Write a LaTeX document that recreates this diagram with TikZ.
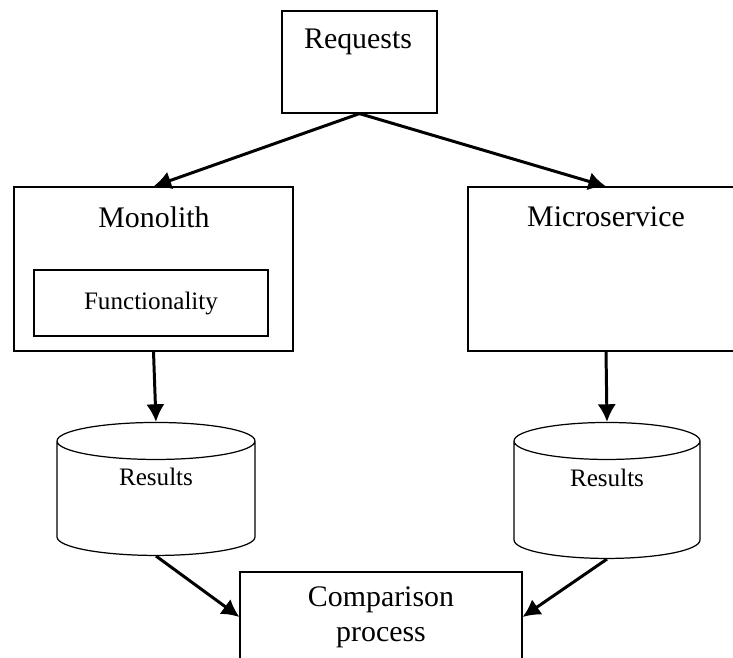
\documentclass[tikz,border=0pt]{standalone}
\usepackage{fontspec}
\setmainfont{Liberation Serif}
\usetikzlibrary{shapes.geometric,arrows.meta}

\tikzset{
  box/.style={draw, line width=0.7pt, inner sep=0pt},
  store/.style={draw, line width=0.7pt, cylinder, shape border rotate=90,
    aspect=0.5, inner sep=0pt, text depth=0.88cm,
    font=\fontsize{14.3}{17}\selectfont},
  title/.style={font=\fontsize{17}{20}\selectfont, align=center},
  small/.style={font=\fontsize{14.3}{17}\selectfont},
  flow/.style={-{Latex[length=10pt,width=10.5pt]}, line width=1.7pt},
}

\begin{document}
\begin{tikzpicture}[x=0.02cm,y=-0.02cm]
\clip (0,0) rectangle (733,657);

% incoming requests
\node[box, minimum width=3.1cm, minimum height=2.04cm] (req) at (359.5,62) {};
\node[title] (reqtitle) at (358,42) {Requests};

% the two systems under test
\node[box, minimum width=5.58cm, minimum height=3.28cm] (mono) at (153.5,269) {};
\node[title] (monotitle) at (154,217) {Monolith};
\node[box, small, minimum width=4.68cm, minimum height=1.32cm] (func) at (151,303) {Functionality};
\node[box, minimum width=5.52cm, minimum height=3.28cm] (micro) at (606,269) {};
\node[title] (microtitle) at (606,217) {Microservice};

% stored results
\node[store, minimum width=3.96cm, minimum height=2.66cm] (resmono) at (156,498.5) {Results};
\node[store, minimum width=3.72cm, minimum height=2.72cm] (resmicro) at (607,500) {Results};

\node[box, title, minimum width=5.64cm, minimum height=1.8cm] (cmp) at (381,617) {Comparison\\process};

\draw[flow] (req.south) -- (mono.north);
\draw[flow] (req.south) -- (micro.north);
\draw[flow] (mono.south) -- (resmono.north);
\draw[flow] (micro.south) -- (resmicro.north);
\draw[flow] (resmono.south) -- (cmp.west);
\draw[flow] (resmicro.south) -- (cmp.east);
\end{tikzpicture}
\end{document}
